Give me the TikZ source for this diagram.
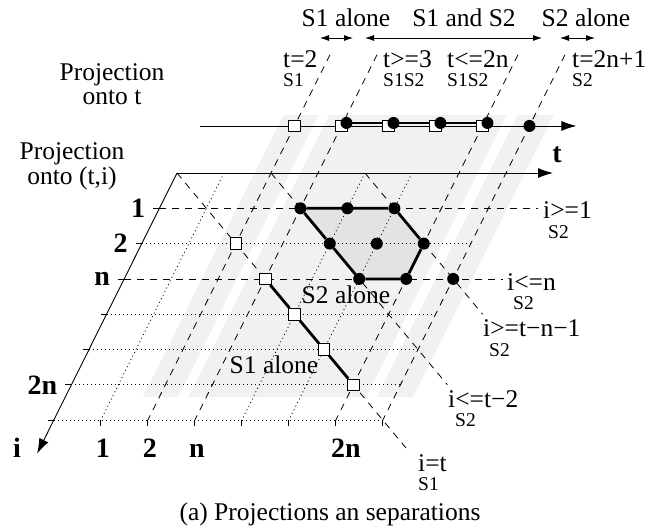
\documentclass[tikz,border=0pt]{standalone}
\usepackage{fontspec}
\setmainfont{Liberation Serif}
\usetikzlibrary{arrows.meta,positioning}
\tikzstyle{band} = [fill=gray!11]
\tikzstyle{poly} = [fill=gray!22]
\tikzstyle{cutline} = [line width=0.8pt, dash pattern=on 7pt off 6pt]
\tikzstyle{gridline} = [line width=0.8pt, dash pattern=on 1pt off 3pt]
\tikzstyle{axisarrow} = [line width=0.9pt, -{Latex[length=15pt,width=10pt]}]
\tikzstyle{spanarrow} = [line width=0.8pt, {Latex[length=9pt,width=6pt]}-{Latex[length=9pt,width=6pt]}]
\tikzstyle{thickline} = [line width=2.8pt]
\tikzstyle{fulldot} = [circle, fill=black, inner sep=0pt, minimum size=12pt]
\tikzstyle{opensq} = [rectangle, draw=black, fill=white, line width=0.9pt, inner sep=0pt, minimum size=11.5pt]
\tikzstyle{lbl} = [inner sep=0pt, font=\fontsize{25.5}{26}\selectfont]
\tikzstyle{sub} = [inner sep=0pt, font=\fontsize{19.5}{20}\selectfont]
\tikzstyle{axlbl} = [inner sep=0pt, font=\fontsize{28}{28}\selectfont\bfseries]

\begin{document}
\begin{tikzpicture}[x=1pt, y=-1pt]
    \useasboundingbox (0,0) rectangle (645,531);
    % skewed frame: t to the right, i down the slanted axis
    \begin{scope}[shift={(177pt,-173pt)}, x={(47pt,0pt)}, y={(-17.6pt,-35.3pt)}]
        % gray strips
        \fill[band] (1.65,-1.64) -- (2.4,-1.64) -- (2.4,6.35) -- (1.65,6.35) -- cycle;
        \fill[band] (2.62,-1.64) -- (6.4,-1.64) -- (6.4,6.35) -- (2.62,6.35) -- cycle;
        \fill[band] (6.63,-1.64) -- (7.4,-1.64) -- (7.4,6.35) -- (6.63,6.35) -- cycle;
        \fill[poly] (3,1) -- (5,1) -- (6,2) -- (6,3) -- (5,3) -- (4,2) -- cycle;
        % grid
        \foreach \i in {2,4,5,6,7} \draw[gridline] (0,\i) -- (7,\i);
        \foreach \i in {1,3} \draw[cutline] (0,\i) -- (8.05,\i);
        \foreach \i in {1,...,7} \draw[line width=0.8pt] (0,\i) -- ++(-6pt,0pt);
        \foreach \t in {1,...,7} \draw[line width=0.8pt] (\t,7) -- ++(0pt,-6pt);
        \foreach \t in {1,4,5} \draw[gridline] (\t,0) -- (\t,7);
        \foreach \t in {2,3,6,7} \draw[cutline] (\t,-3.35) -- (\t,7);
        \draw[cutline] (0,0) -- (7.9,7.9);
        \draw[cutline] (2,0) -- (8,6);
        \draw[cutline] (4,0) -- (8,4);
        % axes
        \draw[axisarrow] (0,0) -- (8,0);
        \draw[axisarrow] (0,0) -- (0,7.95);
        \draw[axisarrow] (0,-1.333) -- (8,-1.333);
        % projection onto t
        \coordinate[xshift=5pt, yshift=3pt] (v3) at (3,-1.333);
        \coordinate[xshift=5pt, yshift=3pt] (v6) at (6,-1.333);
        \draw[thickline] (v3) -- (v6);
        \foreach \t in {2,...,6} \node[opensq] (u\t) at (\t,-1.333) {};
        \foreach \t in {3,...,6} \node[fulldot, xshift=5pt, yshift=3pt] (d\t) at (\t,-1.333) {};
        \node[fulldot] (d7) at (7,-1.333) {};
        % projection onto (t,i)
        \foreach \k in {2,...,6} \node[opensq] (q\k) at (\k,\k) {};
        \draw[thickline] (q3) -- (q4) -- (q5) -- (q6);
        \node[fulldot] (p31) at (3,1) {};
        \node[fulldot] (p41) at (4,1) {};
        \node[fulldot] (p51) at (5,1) {};
        \node[fulldot] (p42) at (4,2) {};
        \node[fulldot] (p52) at (5,2) {};
        \node[fulldot] (p62) at (6,2) {};
        \node[fulldot] (p53) at (5,3) {};
        \node[fulldot] (p63) at (6,3) {};
        \node[fulldot] (p73) at (7,3) {};
        \draw[thickline] (p31) -- (p51) -- (p62) -- (p63) -- (p53) -- (p42) -- (p31);
        % axis labels
        \coordinate (r1) at (0,1);
        \coordinate (r2) at (0,2);
        \coordinate (r3) at (0,3);
        \coordinate (r6) at (0,6);
        \node[axlbl, left=14pt of r1] (lab1) {1};
        \node[axlbl, left=14pt of r2] (lab2) {2};
        \node[axlbl, left=14pt of r3] (labn) {n};
        \node[axlbl, left=14pt of r6] (lab2n) {2n};
        \node[axlbl, anchor=base, xshift=2pt, yshift=-37pt] (col1) at (1,7) {1};
        \node[axlbl, anchor=base, xshift=2pt, yshift=-37pt] (col2) at (2,7) {2};
        \node[axlbl, anchor=base, xshift=2pt, yshift=-37pt] (coln) at (3,7) {n};
        \node[axlbl, anchor=base, xshift=10pt, yshift=-37pt] (col2n) at (6,7) {2n};
        \node[axlbl, anchor=base, xshift=4pt, yshift=11pt] (tlab) at (8,0) {t};
    \end{scope}
    \node[axlbl, anchor=base] (ilab) at (17,457) {i};

    % spans on top
    \node[lbl, anchor=base] (alone1) at (346,26) {S1 alone};
    \node[lbl, anchor=base] (both) at (464,26) {S1 and S2};
    \node[lbl, anchor=base] (alone2) at (586,26) {S2 alone};
    \draw[spanarrow] (320,38) -- (353,38);
    \draw[spanarrow] (365,38) -- (542,38);
    \draw[spanarrow] (560,38) -- (595,38);

    % constraint labels
    \node[lbl, anchor=base west] (ct2) at (283,67) {t=2};
    \node[sub, anchor=base west] at ([yshift=-19pt]ct2.base west) {S1};
    \node[lbl, anchor=base west] (ct3) at (383,67) {t>=3};
    \node[sub, anchor=base west] at ([yshift=-19pt]ct3.base west) {S1S2};
    \node[lbl, anchor=base west] (ct2n) at (447,67) {t<=2n};
    \node[sub, anchor=base west] at ([yshift=-19pt]ct2n.base west) {S1S2};
    \node[lbl, anchor=base west] (ct2n1) at (572,67) {t=2n+1};
    \node[sub, anchor=base west] at ([yshift=-19pt]ct2n1.base west) {S2};
    \node[lbl, anchor=base west] (ci1) at (543,218) {i>=1};
    \node[sub, anchor=base west] at ([xshift=5pt, yshift=-20pt]ci1.base west) {S2};
    \node[lbl, anchor=base west] (cin) at (507,290) {i<=n};
    \node[sub, anchor=base west] at ([xshift=6pt, yshift=-19pt]cin.base west) {S2};
    \node[lbl, anchor=base west] (citn) at (483,336) {i>=t−n−1};
    \node[sub, anchor=base west] at ([xshift=6pt, yshift=-20pt]citn.base west) {S2};
    \node[lbl, anchor=base west] (cit2) at (448,407) {i<=t−2};
    \node[sub, anchor=base west] at ([xshift=7pt, yshift=-19pt]cit2.base west) {S2};
    \node[lbl, anchor=base west] (cit) at (418,471) {i=t};
    \node[sub, anchor=base west] at ([yshift=-19pt]cit.base west) {S1};

    % region labels
    \node[lbl, anchor=base] (reg2) at (346,303) {S2 alone};
    \node[lbl, anchor=base] (reg1) at (274,373) {S1 alone};
    \node[lbl, anchor=base] (proj1) at (112,80) {Projection};
    \node[lbl, anchor=base] at ([yshift=-24pt]proj1.base) {onto t};
    \node[lbl, anchor=base] (proj2) at (72,159) {Projection};
    \node[lbl, anchor=base] at ([yshift=-25pt]proj2.base) {onto (t,i)};

    \node[lbl, anchor=base] (caption) at (330,520) {(a) Projections an separations};
\end{tikzpicture}
\end{document}
